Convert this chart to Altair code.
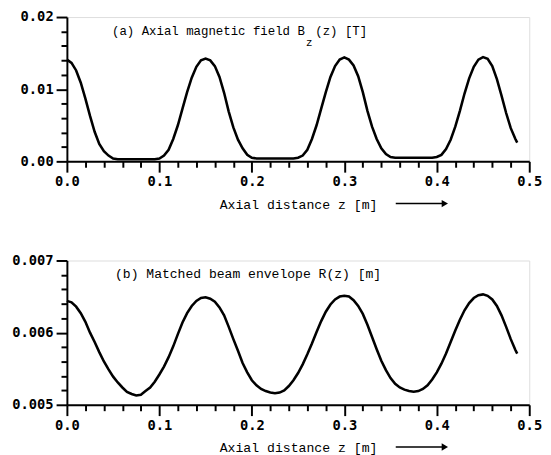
import altair as alt
import pandas as pd

# ---------------- data ----------------
z = [0.000, 0.005, 0.010, 0.015, 0.020, 0.025, 0.030, 0.035, 0.040, 0.045,
     0.050, 0.055, 0.060, 0.065, 0.070, 0.075, 0.080, 0.085, 0.090, 0.095,
     0.100, 0.105, 0.110, 0.115, 0.120, 0.125, 0.130, 0.135, 0.140, 0.145,
     0.150, 0.155, 0.160, 0.165, 0.170, 0.175, 0.180, 0.185, 0.190, 0.195,
     0.200, 0.205, 0.210, 0.215, 0.220, 0.225, 0.230, 0.235, 0.240, 0.245,
     0.250, 0.255, 0.260, 0.265, 0.270, 0.275, 0.280, 0.285, 0.290, 0.295,
     0.300, 0.305, 0.310, 0.315, 0.320, 0.325, 0.330, 0.335, 0.340, 0.345,
     0.350, 0.355, 0.360, 0.365, 0.370, 0.375, 0.380, 0.385, 0.390, 0.395,
     0.400, 0.405, 0.410, 0.415, 0.420, 0.425, 0.430, 0.435, 0.440, 0.445,
     0.450, 0.455, 0.460, 0.465, 0.470, 0.475, 0.480, 0.485, 0.487]

bz = [0.01410, 0.01365, 0.01260, 0.01090, 0.00870, 0.00630, 0.00410, 0.00240, 0.00140, 0.00080,
      0.00040, 0.00030, 0.00030, 0.00030, 0.00030, 0.00030, 0.00030, 0.00030, 0.00030, 0.00030,
      0.00040, 0.00080, 0.00160, 0.00310, 0.00500, 0.00730, 0.00960, 0.01160, 0.01310, 0.01400,
      0.01425, 0.01400, 0.01320, 0.01170, 0.00950, 0.00690, 0.00470, 0.00300, 0.00180, 0.00090,
      0.00050, 0.00040, 0.00040, 0.00040, 0.00040, 0.00040, 0.00040, 0.00040, 0.00040, 0.00040,
      0.00050, 0.00080, 0.00160, 0.00310, 0.00500, 0.00730, 0.00960, 0.01170, 0.01320, 0.01410,
      0.01440, 0.01410, 0.01330, 0.01180, 0.00960, 0.00700, 0.00480, 0.00310, 0.00180, 0.00100,
      0.00060, 0.00050, 0.00050, 0.00050, 0.00050, 0.00050, 0.00050, 0.00050, 0.00050, 0.00050,
      0.00060, 0.00090, 0.00170, 0.00300, 0.00480, 0.00700, 0.00940, 0.01150, 0.01310, 0.01410,
      0.01445, 0.01420, 0.01320, 0.01140, 0.00910, 0.00670, 0.00460, 0.00310, 0.00260]

r = [0.00644, 0.00642, 0.00636, 0.00627, 0.00615, 0.00600, 0.00587, 0.00573, 0.00560, 0.00549,
     0.00539, 0.00531, 0.00524, 0.00518, 0.00515, 0.00513, 0.00514, 0.00519, 0.00524, 0.00532,
     0.00542, 0.00553, 0.00566, 0.00581, 0.00598, 0.00614, 0.00627, 0.00637, 0.00644, 0.00648,
     0.00649, 0.00647, 0.00643, 0.00635, 0.00624, 0.00608, 0.00591, 0.00575, 0.00558, 0.00545,
     0.00534, 0.00527, 0.00522, 0.00519, 0.00517, 0.00516, 0.00517, 0.00520, 0.00526, 0.00534,
     0.00544, 0.00556, 0.00570, 0.00585, 0.00601, 0.00616, 0.00629, 0.00639, 0.00646, 0.00650,
     0.00651, 0.00650, 0.00645, 0.00637, 0.00626, 0.00611, 0.00594, 0.00577, 0.00561, 0.00548,
     0.00537, 0.00529, 0.00524, 0.00521, 0.00519, 0.00518, 0.00519, 0.00522, 0.00527, 0.00535,
     0.00545, 0.00557, 0.00571, 0.00587, 0.00603, 0.00618, 0.00631, 0.00641, 0.00648, 0.00652,
     0.00653, 0.00651, 0.00646, 0.00637, 0.00624, 0.00608, 0.00591, 0.00576, 0.00571]

x_ticks = [0.0, 0.02, 0.04, 0.06, 0.08, 0.1, 0.12, 0.14, 0.16, 0.18, 0.2,
           0.22, 0.24, 0.26, 0.28, 0.3, 0.32, 0.34, 0.36, 0.38, 0.4,
           0.42, 0.44, 0.46, 0.48, 0.5]
bz_ticks = [0.0, 0.002, 0.004, 0.006, 0.008, 0.01, 0.012, 0.014, 0.016, 0.018, 0.02]
r_ticks = [0.005, 0.0052, 0.0054, 0.0056, 0.0058, 0.006, 0.0062, 0.0064, 0.0066, 0.0068, 0.007]

x_title = "Axial distance z [m]"
ann_a = pd.DataFrame({"x": [0.0488, 0.2686], "y": [0.0181, 0.0181],
                      "t": ["(a) Axial magnetic field B", "(z) [T]"]})
ann_a_sub = pd.DataFrame({"x": [0.2585], "y": [0.01635], "t": ["z"]})
ann_b = pd.DataFrame({"x": [0.052], "y": [0.00681], "t": ["(b) Matched beam envelope R(z) [m]"]})

df = pd.DataFrame({"z": z, "bz": bz, "r": r})

# ---------------- styling ----------------
W, H = 471, 147
LAB_FONT = "DejaVu Sans Mono"
TXT_FONT = "Liberation Mono"


def major_test(mult):
    return f"abs(datum.value*{mult} - round(datum.value*{mult})) < 0.001"


def axis(values, mult, fmt, title, orient):
    kw = dict(
        values=values,
        tickCount=len(values) + 5,
        labelExpr=f"{major_test(mult)} ? format(datum.value, '{fmt}') : ''",
        tickSize={"condition": {"test": major_test(mult), "value": 11}, "value": 6},
        tickColor="black", tickWidth=2,
        domainColor="black", domainWidth=2,
        grid=False,
        labelFont=LAB_FONT, labelFontSize=14, labelFontWeight="bold",
        labelColor="black", labelFlush=False, labelOverlap=False,
        labelPadding=3,
        title=title,
    )
    if orient == "x":
        kw.update(titleFont=TXT_FONT, titleFontSize=13.4, titleFontWeight="normal",
                  titleColor="black", titlePadding=9)
    else:
        kw.update(minExtent=59, maxExtent=59)
    return alt.Axis(**kw)


xenc = alt.X("z:Q", scale=alt.Scale(domain=[0, 0.5], nice=False, zero=False),
             axis=axis(x_ticks, 10, ".1f", x_title, "x"))


def arrow():
    one = alt.Data(values=[{"a": 1}])
    line = alt.Chart(one).mark_rule(color="black", strokeWidth=1.5).encode(
        x=alt.value(335), x2=alt.value(383), y=alt.value(H + 43))
    head = alt.Chart(one).mark_point(shape="triangle-right", filled=True, color="black",
                                     size=55, opacity=1).encode(
        x=alt.value(385), y=alt.value(H + 43))
    return line + head


def text_layer(d, size):
    return alt.Chart(d).mark_text(align="left", baseline="middle", font=TXT_FONT,
                                  fontSize=size, color="black").encode(
        x="x:Q", y="y:Q", text="t:N")


base = alt.Chart(df)

line_a = base.mark_line(color="black", strokeWidth=2.6).encode(
    x=xenc,
    y=alt.Y("bz:Q", scale=alt.Scale(domain=[0, 0.02], nice=False),
            axis=axis(bz_ticks, 100, ".2f", "", "y")))
panel_a = alt.layer(line_a, text_layer(ann_a, 12.6), text_layer(ann_a_sub, 11),
                    arrow()).properties(width=W, height=H)

line_b = base.mark_line(color="black", strokeWidth=2.6).encode(
    x=xenc,
    y=alt.Y("r:Q", scale=alt.Scale(domain=[0.005, 0.007], nice=False, zero=False),
            axis=axis(r_ticks, 1000, ".3f", "", "y")))
panel_b = alt.layer(line_b, text_layer(ann_b, 13.3), arrow()).properties(width=W, height=H)

chart = alt.vconcat(panel_a, panel_b, spacing=42).properties(
    padding={"left": 0, "top": -3, "right": 0, "bottom": 0}
).configure_view(strokeWidth=0).configure(background="white")

chart.save("out.html", embed_options={"renderer": "svg", "actions": False})
